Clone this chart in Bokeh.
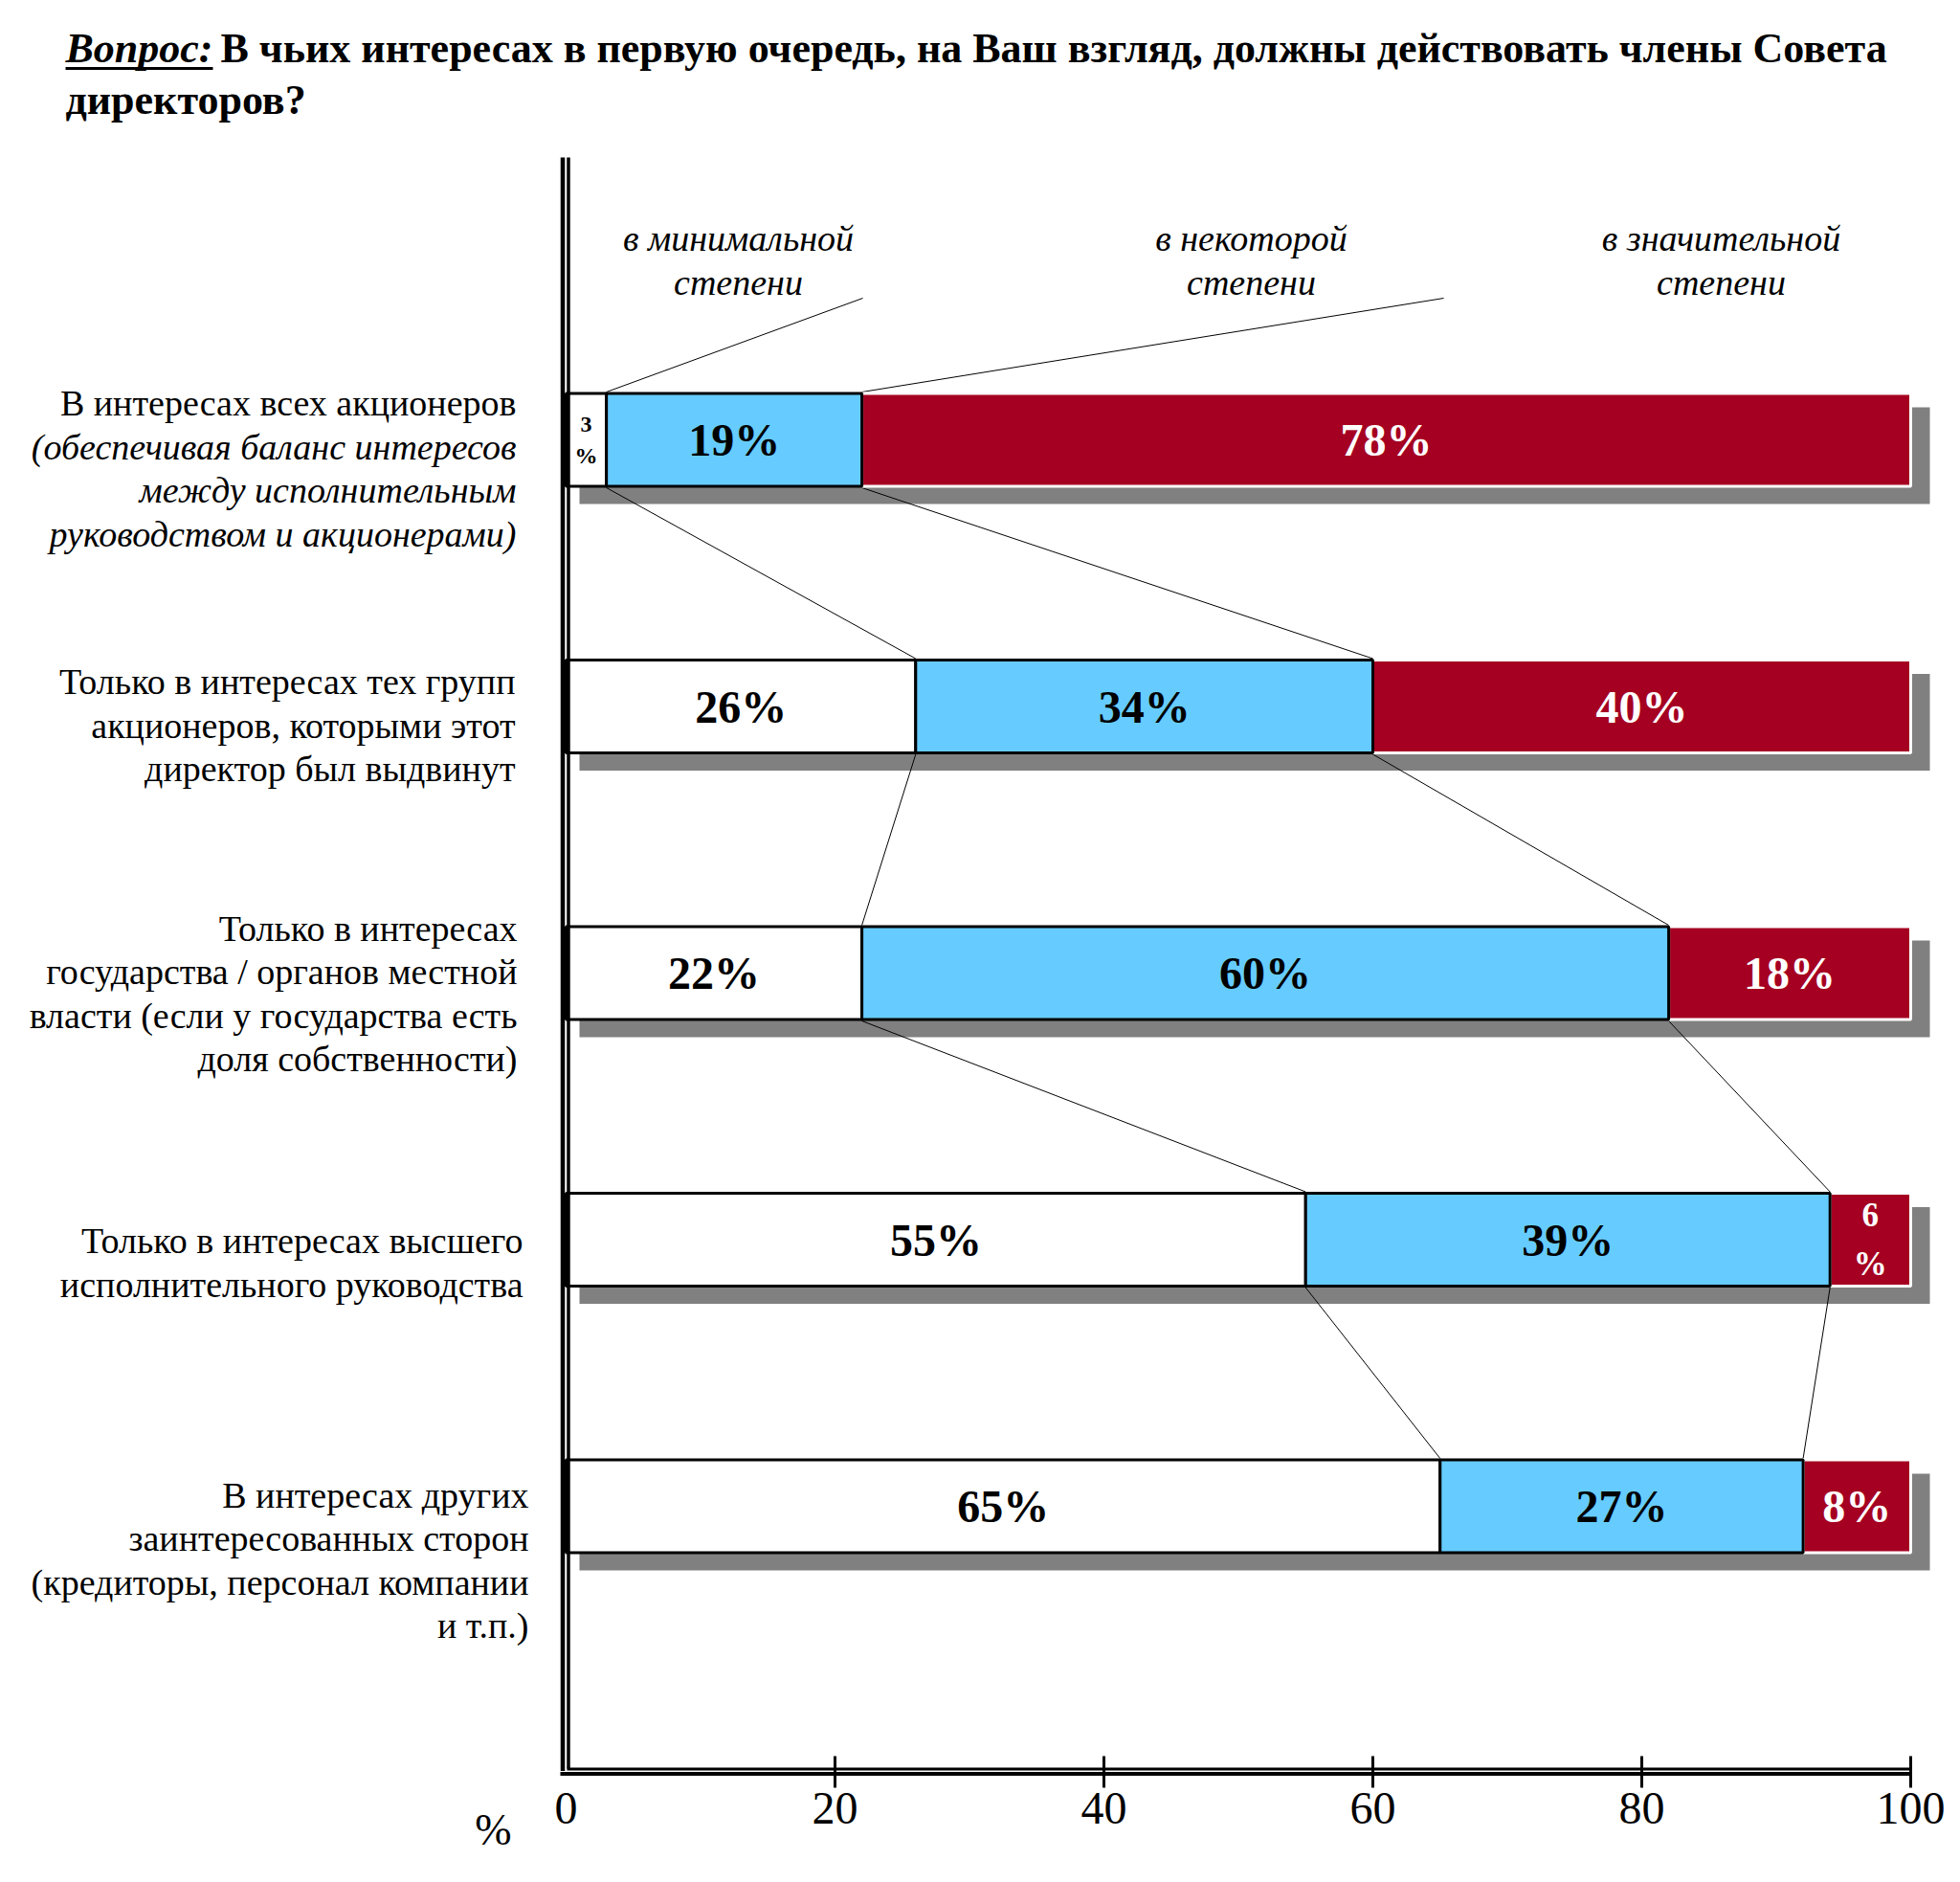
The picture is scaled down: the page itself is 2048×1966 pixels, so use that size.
from bokeh.plotting import figure
from bokeh.models import Range1d, LinearAxis, FixedTicker, ColumnDataSource
from bokeh.core.properties import value
from bokeh.embed import file_html
from bokeh.resources import INLINE

# ---------------- data ----------------
title_lead = "Вопрос:"
title_line1 = "В чьих интересах в первую очередь, на Ваш взгляд, должны действовать члены Совета"
title_line2 = "директоров?"
series_names = ["в минимальной\nстепени", "в некоторой\nстепени", "в значительной\nстепени"]
categories = [
    "В интересах всех акционеров\n(обеспечивая баланс интересов\nмежду исполнительным\nруководством и акционерами)",
    "Только в интересах тех групп\nакционеров, которыми этот\nдиректор был выдвинут",
    "Только в интересах\nгосударства / органов местной\nвласти (если у государства есть\nдоля собственности)",
    "Только в интересах высшего\nисполнительного руководства",
    "В интересах других\nзаинтересованных сторон\n(кредиторы, персонал компании\nи т.п.)",
]
italic_from_line = [1, None, None, None, None]
minimal = [3, 26, 22, 55, 65]
some = [19, 34, 60, 39, 27]
significant = [78, 40, 18, 6, 8]
tick_values = [0, 20, 40, 60, 80, 100]
tick_labels = ["0", "20", "40", "60", "80", "100"]
axis_unit = "%"

# ---------------- layout ----------------
FONT = value("Liberation Serif")
W, H = 2032, 1950
M = 0                      # page offset of the canvas
X0, XS = 591.0, 14.05      # page x of 0 %, px per %
Y0, YS = 459.0, 278.5      # page y of first row, px per row

def dx(px): return (px - X0) / XS
def dy(py): return (py - Y0) / YS
def ddx(n): return n / XS
def ddy(n): return n / YS

WHITE, BLUE, RED, SHADOW = "#FFFFFF", "#66CCFF", "#A50021", "#808080"

p = figure(width=W, height=H,
           x_range=Range1d(dx(M), dx(M + W)), y_range=Range1d(dy(M + H), dy(M)),
           min_border=0, toolbar_location=None, output_backend="svg",
           x_axis_location=None, y_axis_location=None, outline_line_color=None,
           background_fill_color="white", border_fill_color="white")
p.grid.visible = False

n = len(categories)
rows = list(range(n))
r1 = list(minimal)
r2 = [a + b for a, b in zip(minimal, some)]
r3 = [a + b + c for a, b, c in zip(minimal, some, significant)]
BH = ddy(97)

# shadows
p.quad(left=[ddx(14)] * n, right=[t + ddx(20) for t in r3],
       top=[i + ddy(-34) for i in rows], bottom=[i + ddy(67) for i in rows],
       fill_color=SHADOW, line_color=None)

# connector lines between rows
cx0, cy0, cx1, cy1 = [], [], [], []
for i in range(n - 1):
    for b in (r1, r2):
        cx0.append(b[i]); cy0.append(i + BH / 2 + ddy(1.5))
        cx1.append(b[i + 1]); cy1.append(i + 1 - BH / 2 - ddy(1.5))
# from the series captions to the first bar
for lx, b in ((901, r1), (1508, r2)):
    cx0.append(dx(lx)); cy0.append(dy(311))
    cx1.append(b[0]); cy1.append(0 - BH / 2 - ddy(1.5))
p.segment(x0=cx0, y0=cy0, x1=cx1, y1=cy1, line_color="black", line_width=1)

# bars
p.hbar(y=rows, left=r2, right=r3, height=BH, fill_color=RED, line_color="white", line_width=3)
p.hbar(y=rows, left=[0] * n, right=r1, height=BH, fill_color=WHITE, line_color="black", line_width=3)
p.hbar(y=rows, left=r1, right=r2, height=BH, fill_color=BLUE, line_color="black", line_width=3)

# value labels
wide = dict(x=[], y=[], text=[], color=[])
narrow = dict(x=[], y=[], text=[], color=[], size=[])
for i in rows:
    for lo, hi, v, col in ((0, r1[i], minimal[i], "black"),
                           (r1[i], r2[i], some[i], "black"),
                           (r2[i], r3[i], significant[i], "white")):
        cx = (lo + hi) / 2
        if v >= 7:
            wide["x"].append(cx); wide["y"].append(i)
            wide["text"].append(f"{v}%"); wide["color"].append(col)
        else:
            narrow["x"].append(cx); narrow["y"].append(i)
            narrow["text"].append(f"{v}\n%"); narrow["color"].append(col)
            narrow["size"].append("24px" if v < 5 else "35px")
p.text(x="x", y="y", text="text", source=ColumnDataSource(wide), text_color="color",
       text_font=FONT, text_font_style="bold", text_font_size="48px",
       text_align="center", text_baseline="middle")
p.text(x="x", y="y", text="text", source=ColumnDataSource(narrow), text_color="color",
       text_font=FONT, text_font_style="bold", text_font_size="size", text_line_height=1.3,
       text_align="center", text_baseline="middle")

# axes lines (double lines)
p.segment(x0=[dx(587.5), dx(593.5)], x1=[dx(587.5), dx(593.5)],
          y0=[dy(164), dy(164)], y1=[dy(1849.5), dy(1847)],
          line_color="black", line_width=[4.5, 3.5])
p.segment(x0=[dx(592), dx(585)], x1=[dx(1997), dx(1997)],
          y0=[dy(1847.5), dy(1852.5)], y1=[dy(1847.5), dy(1852.5)],
          line_color="black", line_width=[3, 4])
# tick marks
p.segment(x0=tick_values[1:], x1=tick_values[1:], y0=[dy(1834)] * (len(tick_values) - 1),
          y1=[dy(1867)] * (len(tick_values) - 1), line_color="black", line_width=3)

ax = LinearAxis(fixed_location=dy(1850), ticker=FixedTicker(ticks=tick_values),
                major_label_overrides={t: l for t, l in zip(tick_values, tick_labels)},
                axis_line_color=None, major_tick_line_color=None, minor_tick_line_color=None,
                major_tick_in=0, major_tick_out=0,
                major_label_text_font="Liberation Serif", major_label_text_font_size="48px",
                major_label_text_color="black", major_label_standoff=22)
p.add_layout(ax, "below")

p.text(x=[dx(515)], y=[dy(1911)], text=[axis_unit], text_font=FONT, text_font_size="46px",
       text_align="center", text_baseline="middle", text_color="black")

# series captions
cap_x = [771, 1307, 1798]
for sx, name in zip(cap_x, series_names):
    for k, line in enumerate(name.split("\n")):
        p.text(x=[dx(sx)], y=[dy(248 + 46 * k)], text=[line], text_font=FONT,
               text_font_style="italic", text_font_size="38px",
               text_align="center", text_baseline="middle", text_color="black")

# category labels
label_dy = [-38.5, -26, -47, 1, -12]
label_right = [539, 538, 540, 546, 552]
for i, cat in enumerate(categories):
    for k, line in enumerate(cat.split("\n")):
        it = italic_from_line[i] is not None and k >= italic_from_line[i]
        p.text(x=[dx(label_right[i])], y=[i + ddy(label_dy[i] + 45.5 * k)], text=[line],
               text_font=FONT, text_font_style="italic" if it else "normal",
               text_font_size="38px", text_align="right", text_baseline="middle",
               text_color="black")

# title (two lines, middle baseline)
T1, T2 = 50, 104
p.text(x=[dx(68)], y=[dy(T1)], text=[title_lead], text_font=FONT, text_font_style="bold italic",
       text_font_size="44px", text_align="left", text_baseline="middle", text_color="black")
p.segment(x0=[dx(68)], x1=[dx(222)], y0=[dy(71)], y1=[dy(71)], line_color="black", line_width=3)
p.text(x=[dx(230)], y=[dy(T1)], text=[title_line1], text_font=FONT, text_font_style="bold",
       text_font_size="44px", text_align="left", text_baseline="middle", text_color="black")
p.text(x=[dx(68)], y=[dy(T2)], text=[title_line2], text_font=FONT, text_font_style="bold",
       text_font_size="44px", text_align="left", text_baseline="middle", text_color="black")

open("out.html", "w").write(file_html(p, INLINE))
